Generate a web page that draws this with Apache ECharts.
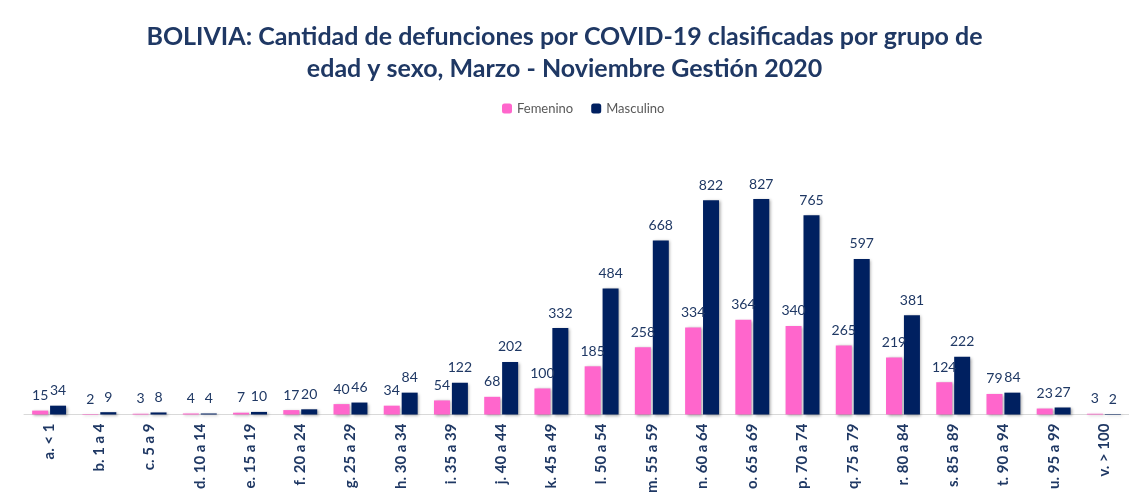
<!DOCTYPE html>
<html>
<head>
<meta charset="utf-8">
<script src="https://cdn.jsdelivr.net/npm/echarts@6/dist/echarts.min.js"></script>
<style>html,body{margin:0;padding:0;background:#fff;}#c{width:1129px;height:496px;}</style>
</head>
<body>
<div id="c"></div>
<script>
var categories = ['a. < 1','b. 1 a 4','c. 5 a 9','d. 10 a 14','e. 15 a 19','f. 20 a 24','g. 25 a 29','h. 30 a 34','i. 35 a 39','j. 40 a 44','k. 45 a 49','l. 50 a 54','m. 55 a 59','n. 60 a 64','o. 65 a 69','p. 70 a 74','q. 75 a 79','r. 80 a 84','s. 85 a 89','t. 90 a 94','u. 95 a 99','v. > 100'];
var femenino = [15,2,3,4,7,17,40,34,54,68,100,185,258,334,364,340,265,219,124,79,23,3];
var masculino = [34,9,8,4,10,20,46,84,122,202,332,484,668,822,827,765,597,381,222,84,27,2];

var chart = echarts.init(document.getElementById('c'));
var labelStyle = {show:true, position:'top', distance:8, color:'#1F3864', fontSize:14, fontFamily:'Lato'};
var shadow = {shadowColor:'rgba(0,0,0,0.35)', shadowBlur:3, shadowOffsetX:1.5, shadowOffsetY:1};
chart.setOption({
  animation:false,
  title:{
    text:'BOLIVIA: Cantidad de defunciones por COVID-19 clasificadas por grupo de\nedad y sexo, Marzo - Noviembre Gestión 2020',
    left:'center', top:16,
    textStyle:{fontFamily:'Lato', fontWeight:'bold', fontSize:25, color:'#1F3864', lineHeight:32}
  },
  legend:{
    top:97, left:497, itemWidth:10, itemHeight:10, itemGap:18,
    textStyle:{fontFamily:'Lato', fontSize:13, color:'#595959'},
    data:['Femenino','Masculino']
  },
  grid:{left:24, width:1109, top:180, bottom:79, containLabel:false},
  xAxis:{
    type:'category', data:categories,
    axisLine:{lineStyle:{color:'#D9D9D9', width:1}},
    axisTick:{show:false},
    axisLabel:{rotate:90, interval:0, margin:9, fontFamily:'Lato', fontWeight:'bold', fontSize:15, color:'#1F3864'}
  },
  yAxis:{type:'value', min:0, max:900, show:false, splitLine:{show:false}},
  series:[
    {name:'Femenino', type:'bar', data:femenino, barWidth:16, barGap:'12%',
     itemStyle:Object.assign({color:'#FF66CC'}, shadow), label:labelStyle},
    {name:'Masculino', type:'bar', data:masculino, barWidth:16,
     itemStyle:Object.assign({color:'#002060'}, shadow), label:labelStyle}
  ]
});
</script>
</body>
</html>
